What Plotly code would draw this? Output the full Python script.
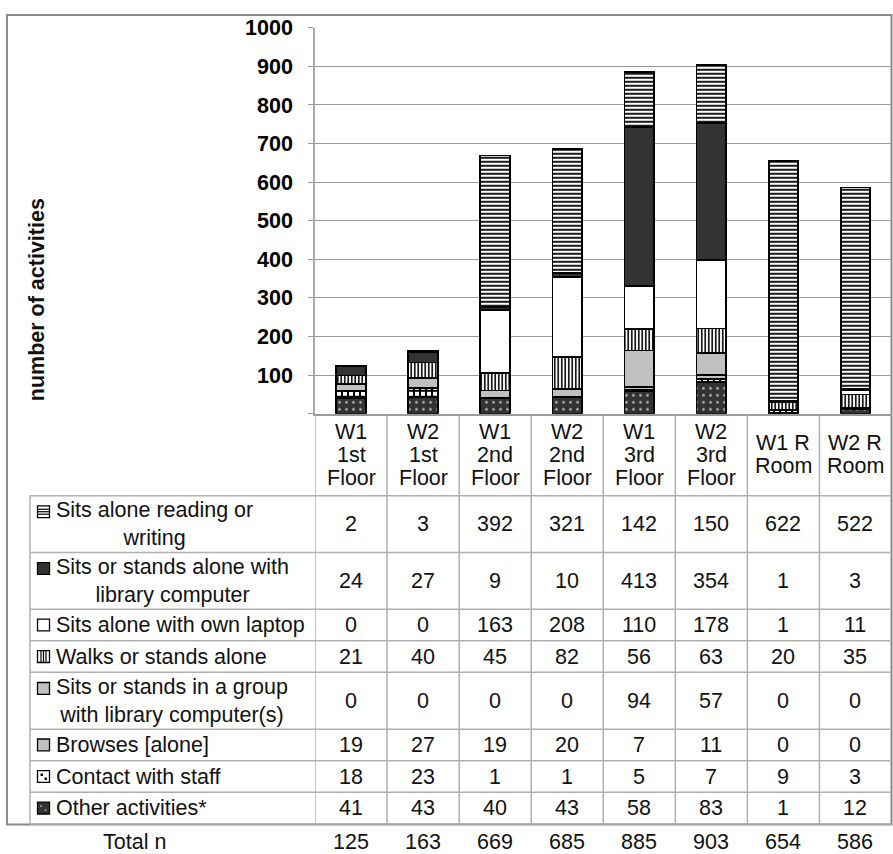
import plotly.graph_objects as go

# ---------------------------------------------------------------- data
categories = ["W1 1st Floor", "W2 1st Floor", "W1 2nd Floor", "W2 2nd Floor",
              "W1 3rd Floor", "W2 3rd Floor", "W1 R Room", "W2 R Room"]
category_labels = ["W1<br>1st<br>Floor", "W2<br>1st<br>Floor", "W1<br>2nd<br>Floor",
                   "W2<br>2nd<br>Floor", "W1<br>3rd<br>Floor", "W2<br>3rd<br>Floor",
                   "W1 R<br>Room", "W2 R<br>Room"]

# table rows, top to bottom (bars are stacked in the reverse order)
activity_labels = ["Sits alone reading or<br>writing",
                   "Sits or stands alone with<br>library computer",
                   "Sits alone with own laptop",
                   "Walks or stands alone",
                   "Sits or stands in a group<br>with library computer(s)",
                   "Browses [alone]",
                   "Contact with staff",
                   "Other activities*"]

reading = [2, 3, 392, 321, 142, 150, 622, 522]
library_computer = [24, 27, 9, 10, 413, 354, 1, 3]
own_laptop = [0, 0, 163, 208, 110, 178, 1, 11]
walks = [21, 40, 45, 82, 56, 63, 20, 35]
group_computer = [0, 0, 0, 0, 94, 57, 0, 0]
browses = [19, 27, 19, 20, 7, 11, 0, 0]
contact_staff = [18, 23, 1, 1, 5, 7, 9, 3]
other_activities = [41, 43, 40, 43, 58, 83, 1, 12]

series_values = [reading, library_computer, own_laptop, walks,
                 group_computer, browses, contact_staff, other_activities]

y_ticks = [0, 100, 200, 300, 400, 500, 600, 700, 800, 900, 1000]
y_title = "number of activities"
total_label = "Total n"

totals = [sum(col) for col in zip(*series_values)]

# ---------------------------------------------------------------- styling
W, H = 893, 854
FONT = "Liberation Sans, Arial, sans-serif"
TXT = "#111111"
TABLE_LINE = "#b0b0b0"
DARK = "#333333"
LIGHT_GRAY = "#c0c0c0"

series_styles = [
    dict(bg="white", pattern=dict(shape="-", fgcolor="black", bgcolor="white", size=4, solidity=0.45), icon="hlines"),
    dict(bg=DARK, pattern=None, icon="dark"),
    dict(bg="white", pattern=None, icon="white"),
    dict(bg="white", pattern=dict(shape="|", fgcolor="black", bgcolor="white", size=3.5, solidity=0.45), icon="vlines"),
    dict(bg=LIGHT_GRAY, pattern=None, icon="gray"),
    dict(bg=LIGHT_GRAY, pattern=None, icon="gray"),
    dict(bg="white", pattern=dict(shape="+", fgcolor="black", bgcolor="white", size=6, solidity=0.55), icon="checker"),
    dict(bg=DARK, pattern=dict(shape=".", fgcolor="#b8b8b8", bgcolor=DARK, size=7, solidity=0.12), icon="dots"),
]


def px(x):
    return x / W


def py(y):
    return 1 - y / H


PLOT_LEFT, PLOT_RIGHT, PLOT_TOP, PLOT_BOTTOM = 315, 891.5, 17, 408
TABLE_LEFT, HEADER_BOTTOM = 30, 491
ONE_LINE_ROW, TWO_LINE_ROW = 32, 57.5

fig = go.Figure()

# stacked bars, bottom segment first
for vals, style in reversed(list(zip(series_values, series_styles))):
    marker = dict(color=style["bg"], line=dict(color="black", width=1.8))
    if style["pattern"]:
        marker["pattern"] = dict(fillmode="replace", **style["pattern"])
    fig.add_trace(go.Bar(x=categories, y=vals, width=0.41, marker=marker,
                         showlegend=False, hoverinfo="skip"))

shapes = []
annotations = []

# outer frame
shapes.append(dict(type="rect", xref="paper", yref="paper",
                   x0=px(7), x1=px(PLOT_RIGHT), y0=py(824), y1=py(4),
                   line=dict(color="#8a8a8a", width=2), layer="below"))

# row geometry of the data table
row_edges = [HEADER_BOTTOM]
for lab in activity_labels:
    row_edges.append(row_edges[-1] + (TWO_LINE_ROW if "<br>" in lab else ONE_LINE_ROW))
table_bottom = row_edges[-1]

# horizontal table lines
for yb in row_edges:
    shapes.append(dict(type="line", xref="paper", yref="paper",
                       x0=px(TABLE_LEFT), x1=px(PLOT_RIGHT), y0=py(yb), y1=py(yb),
                       line=dict(color=TABLE_LINE, width=1.5)))
# vertical table lines
shapes.append(dict(type="line", xref="paper", yref="paper",
                   x0=px(TABLE_LEFT), x1=px(TABLE_LEFT), y0=py(HEADER_BOTTOM), y1=py(table_bottom),
                   line=dict(color=TABLE_LINE, width=1.5)))
for i in range(len(categories)):
    shapes.append(dict(type="line", xref="x", yref="paper",
                       x0=i - 0.5, x1=i - 0.5, y0=py(PLOT_BOTTOM), y1=py(table_bottom),
                       line=dict(color=TABLE_LINE, width=1.5)))

# category header text
LINE_STEP = 23.5
header_mid = (PLOT_BOTTOM + HEADER_BOTTOM) / 2
for cat, lab in zip(categories, category_labels):
    lines = lab.split("<br>")
    first = header_mid - LINE_STEP * (len(lines) - 1) / 2
    for k, ln in enumerate(lines):
        annotations.append(dict(x=cat, y=py(first + k * LINE_STEP), xref="x", yref="paper",
                                text=ln, showarrow=False, xanchor="center", yanchor="middle",
                                font=dict(family=FONT, size=21.5, color=TXT)))


def icon_shapes(kind, cx, cy):
    s = 6
    x0, x1, y0, y1 = cx - s, cx + s, cy - s, cy + s
    out = []
    fill = {"dark": DARK, "dots": DARK, "gray": LIGHT_GRAY}.get(kind, "white")
    out.append(dict(type="rect", xref="paper", yref="paper", x0=px(x0), x1=px(x1),
                    y0=py(y1), y1=py(y0), fillcolor=fill, line=dict(color="black", width=1.3)))
    if kind == "hlines":
        for yy in (cy - 2.5, cy, cy + 2.5):
            out.append(dict(type="line", xref="paper", yref="paper", x0=px(x0), x1=px(x1),
                            y0=py(yy), y1=py(yy), line=dict(color="black", width=1.2)))
    elif kind == "vlines":
        for xx in (cx - 2.5, cx, cx + 2.5):
            out.append(dict(type="line", xref="paper", yref="paper", x0=px(xx), x1=px(xx),
                            y0=py(y0), y1=py(y1), line=dict(color="black", width=1.2)))
    elif kind == "checker":
        for dx, dy in ((-3, -3), (1, 1), (-3, 1), (1, -3)):
            col = "black" if (dx == dy) else "white"
            out.append(dict(type="rect", xref="paper", yref="paper",
                            x0=px(cx + dx), x1=px(cx + dx + 2.5), y0=py(cy + dy + 2.5), y1=py(cy + dy),
                            fillcolor=col, line=dict(width=0)))
    elif kind == "dots":
        for dx, dy in ((-2.5, -2), (2, 2)):
            out.append(dict(type="rect", xref="paper", yref="paper",
                            x0=px(cx + dx - 0.8), x1=px(cx + dx + 0.8),
                            y0=py(cy + dy + 0.8), y1=py(cy + dy - 0.8),
                            fillcolor="#aaaaaa", line=dict(width=0)))
    return out


# activity rows: label, icon and values
for r, (lab, vals, style) in enumerate(zip(activity_labels, series_values, series_styles)):
    top, bot = row_edges[r], row_edges[r + 1]
    mid = (top + bot) / 2
    two_lines = "<br>" in lab
    icon_y = mid - 12.5 if two_lines else mid
    shapes.extend(icon_shapes(style["icon"], 43.5, icon_y))
    annotations.append(dict(x=px(54), y=py(mid), xref="paper", yref="paper", text=lab,
                            showarrow=False, xanchor="left", yanchor="middle", align="center",
                            font=dict(family=FONT, size=21.5, color=TXT)))
    for cat, v in zip(categories, vals):
        annotations.append(dict(x=cat, y=py(mid), xref="x", yref="paper", text=str(v),
                                showarrow=False, xanchor="center", yanchor="middle",
                                font=dict(family=FONT, size=21.5, color=TXT)))

# totals row beneath the frame
TOTAL_Y = 842
annotations.append(dict(x=px(134), y=py(TOTAL_Y), xref="paper", yref="paper", text=total_label,
                        showarrow=False, xanchor="center", yanchor="middle",
                        font=dict(family=FONT, size=21.5, color=TXT)))
for cat, t in zip(categories, totals):
    annotations.append(dict(x=cat, y=py(TOTAL_Y), xref="x", yref="paper", text=str(t),
                            showarrow=False, xanchor="center", yanchor="middle",
                            font=dict(family=FONT, size=21.5, color=TXT)))

# y-axis title
annotations.append(dict(x=px(37), y=py(293), xref="paper", yref="paper", text=y_title,
                        textangle=-90, showarrow=False, xanchor="center", yanchor="middle",
                        font=dict(family=FONT, size=21.5, color=TXT, weight="bold")))

fig.update_layout(
    width=W, height=H,
    margin=dict(l=0, r=0, t=0, b=0),
    paper_bgcolor="white", plot_bgcolor="white",
    barmode="stack",
    showlegend=False,
    shapes=shapes,
    annotations=annotations,
    xaxis=dict(type="category", categoryorder="array", categoryarray=categories,
               range=[-0.5, len(categories) - 0.5], domain=[px(PLOT_LEFT), px(PLOT_RIGHT)],
               showticklabels=False, ticks="", showgrid=False, zeroline=False,
               showline=True, linecolor="#9a9a9a", linewidth=1.5),
    yaxis=dict(range=[0, 1000], domain=[py(PLOT_BOTTOM), py(PLOT_TOP)],
               tickvals=y_ticks, ticktext=["" if v == 0 else str(v) for v in y_ticks],
               ticks="outside", ticklen=5, tickcolor="#9a9a9a", tickwidth=1.3,
               ticklabelstandoff=11,
               tickfont=dict(family=FONT, size=21.5, color="black", weight="bold"),
               showgrid=True, gridcolor="#9a9a9a", gridwidth=1.3, zeroline=False,
               showline=True, linecolor="#aaaaaa", linewidth=1.5),
)

fig.write_html("out.html")
